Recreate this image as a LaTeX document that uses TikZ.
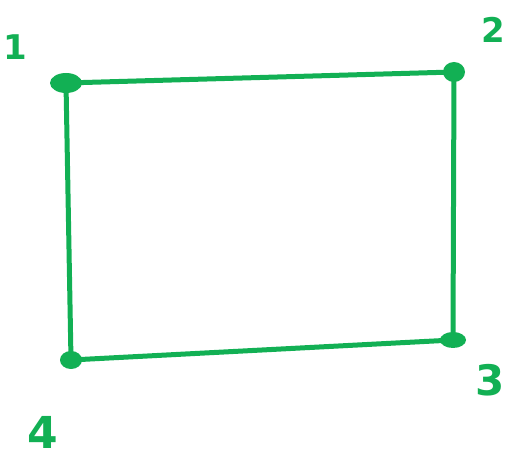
\documentclass[tikz,border=0pt]{standalone}
\usepackage{fontspec}
\setmainfont{DejaVu Sans}
\definecolor{marker}{RGB}{18,176,84}
\begin{document}
\begin{tikzpicture}[x=1pt,y=-1pt,
  edge/.style={draw=marker,line width=5pt,line cap=round,line join=round},
  corner/.style={fill=marker},
  lbl/.style={text=marker,font=\bfseries\fontsize{34}{34}\selectfont,inner sep=0pt}]
\useasboundingbox (0,0) rectangle (515,470);
\coordinate (c1) at (66,83);
\coordinate (c2) at (454,72);
\coordinate (c3) at (453,340);
\coordinate (c4) at (71,360);
\draw[edge] (c1) -- (c2) -- (c3) -- (c4) -- cycle;
\fill[corner] (c1) ellipse [x radius=16pt,y radius=10pt];
\fill[corner] (c2) ellipse [x radius=11pt,y radius=10pt];
\fill[corner] (c3) ellipse [x radius=13pt,y radius=8pt];
\fill[corner] (c4) ellipse [x radius=11pt,y radius=9pt];
\node[lbl] (l1) at (15,47) {1};
\node[lbl] (l2) at (493,30) {2};
\node[lbl,font=\bfseries\fontsize{42}{42}\selectfont] (l3) at (490,380) {3};
\node[lbl,font=\bfseries\fontsize{44}{44}\selectfont] (l4) at (43,432) {4};
\end{tikzpicture}
\end{document}
